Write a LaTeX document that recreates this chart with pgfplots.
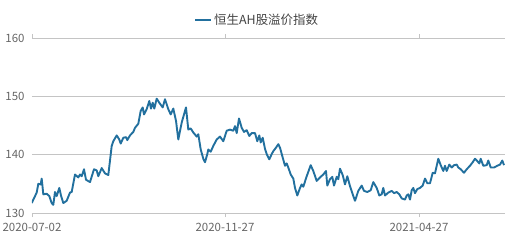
\documentclass[border=0pt]{standalone}
\usepackage{pgfplots}
\pgfplotsset{compat=1.18}
\usepackage{fontspec}
\setmainfont{Noto Sans CJK SC}
\definecolor{linec}{HTML}{22709E}
\definecolor{gridc}{HTML}{C4C4C4}
\definecolor{textc}{HTML}{666666}
\definecolor{legc}{HTML}{444444}
\begin{document}
\begin{tikzpicture}
\useasboundingbox (0,0) rectangle (519bp,244bp);
\begin{axis}[
  at={(32bp,31bp)}, anchor=south west,
  width=473bp, height=175bp, scale only axis,
  xmin=32, xmax=505, ymin=130, ymax=160,
  axis line style={draw=none},
  ytick={130,140,150,160},
  xtick={32,225,419},
  xticklabels={2020-07-02,2020-11-27,2021-04-27},
  ymajorgrids, grid style={gridc, line width=0.8pt},
  major tick length=0pt,
  extra x ticks={32,225,419},
  extra x tick labels={},
  extra x tick style={major tick length=4bp, tick style={gridc, line width=0.8pt}, tick align=outside, grid=none},
  /pgf/number format/assume math mode=true,
  yticklabel style={font=\fontsize{11.5}{13}\selectfont, text=textc, anchor=east, xshift=-4bp},
  xticklabel style={font=\fontsize{11.5}{13}\selectfont, text=textc, yshift=-7bp},
  legend style={at={(rel axis cs:0.476,1)}, anchor=south, yshift=8bp, draw=none, fill=none,
    font=\fontsize{12.5}{14}\selectfont, text=legc, legend cell align=left},
  legend image code/.code={\draw[linec, line width=2.4pt] (0cm,0cm) -- (0.55cm,0cm);},
]
\addplot[linec, line width=1.9pt, line join=round] coordinates {
(31.7,131.7) (36.7,133.5) (38.3,135.0) (40.7,134.9) (41.7,135.9) (43.3,133.2)
(46.7,133.3) (49.3,132.9) (51.7,131.7) (53.3,131.4) (55.0,133.6) (56.7,132.9)
(59.3,134.3) (61.0,133.0) (63.3,131.7) (66.7,132.1) (70.0,133.5) (71.7,133.6)
(75.0,136.6) (78.3,136.1) (80.0,136.6) (81.7,136.3) (84.0,137.5) (86.0,135.7)
(90.0,135.3) (94.0,137.5) (96.7,137.3) (98.3,136.3) (101.7,137.7) (105.0,136.8)
(108.3,136.5) (111.7,141.5) (113.3,142.3) (116.7,143.3) (119.3,142.6) (120.7,141.9)
(123.3,142.9) (126.0,143.0) (127.3,142.5) (130.0,143.3) (133.3,143.9) (135.0,144.6)
(138.3,145.3) (140.7,147.5) (142.7,148.1) (144.0,146.9) (146.7,147.8) (149.3,149.2)
(151.0,147.9) (152.7,148.9) (154.3,147.9) (156.7,149.6) (159.3,148.9) (162.7,148.1)
(165.0,149.5) (168.3,147.8) (170.7,146.9) (173.3,147.9) (176.0,145.8) (178.3,142.6)
(181.7,145.5) (186.0,148.1) (188.3,144.3) (190.7,144.5) (193.3,143.8) (196.7,143.1)
(198.3,143.5) (200.7,140.9) (203.3,139.3) (205.0,138.7) (207.3,140.1) (208.3,140.9)
(210.7,140.5) (213.3,141.5) (216.7,142.6) (220.0,143.1) (223.3,142.3) (226.7,144.1)
(230.0,144.3) (233.3,144.1) (235.0,144.9) (236.7,143.7) (239.0,146.2) (241.7,144.6)
(244.0,143.9) (246.7,144.2) (249.3,143.2) (251.7,143.7) (255.0,143.7) (257.3,142.3)
(259.3,143.3) (260.7,142.1) (262.7,142.9) (265.0,141.0) (266.7,140.1) (269.3,139.2)
(271.7,140.1) (273.3,140.6) (276.0,141.2) (278.3,141.8) (280.0,141.2) (282.7,139.5)
(285.0,138.1) (286.7,138.5) (288.3,137.8) (290.7,136.6) (293.3,135.9) (295.0,134.3)
(297.3,133.0) (300.0,134.3) (301.7,134.9) (303.3,134.5) (306.7,136.3) (310.7,138.2)
(313.3,137.2) (316.7,135.5) (320.0,136.1) (323.3,136.6) (326.0,137.2) (327.3,134.7)
(330.0,135.8) (332.3,136.2) (334.0,134.7) (336.7,136.2) (338.3,135.8) (340.0,137.6)
(342.7,136.5) (345.0,134.9) (347.3,136.3) (350.0,134.6) (352.7,133.2) (355.0,132.1)
(358.3,133.8) (361.7,134.7) (364.0,133.8) (367.3,133.6) (370.7,133.9) (373.3,135.3)
(376.7,134.3) (379.3,133.0) (381.7,133.2) (383.3,134.3) (385.0,133.0) (388.3,133.5)
(391.7,133.8) (394.0,133.4) (396.7,133.6) (399.3,133.2) (401.7,132.5) (405.0,132.3)
(406.7,133.0) (408.3,133.2) (410.0,132.3) (411.7,133.9) (413.3,134.3) (415.0,133.4)
(417.3,134.1) (420.0,134.3) (422.7,134.7) (425.0,135.9) (427.3,135.1) (430.0,135.1)
(432.7,136.9) (435.0,136.8) (438.3,139.3) (440.7,138.2) (443.3,137.2) (445.0,138.1)
(446.7,137.2) (449.3,138.3) (451.7,137.8) (454.0,138.2) (456.7,138.3) (458.3,137.8)
(460.7,137.5) (464.0,136.9) (466.7,137.5) (470.0,138.1) (472.7,138.7) (475.0,139.3)
(477.3,138.9) (479.3,138.5) (480.7,139.3) (483.3,138.1) (486.7,138.2) (488.3,139.0)
(490.7,137.8) (494.0,137.8) (497.3,138.1) (500.0,138.3) (502.3,139.0) (504.0,138.2)
};
\addlegendentry{恒生AH股溢价指数}
\end{axis}
\end{tikzpicture}
\end{document}
